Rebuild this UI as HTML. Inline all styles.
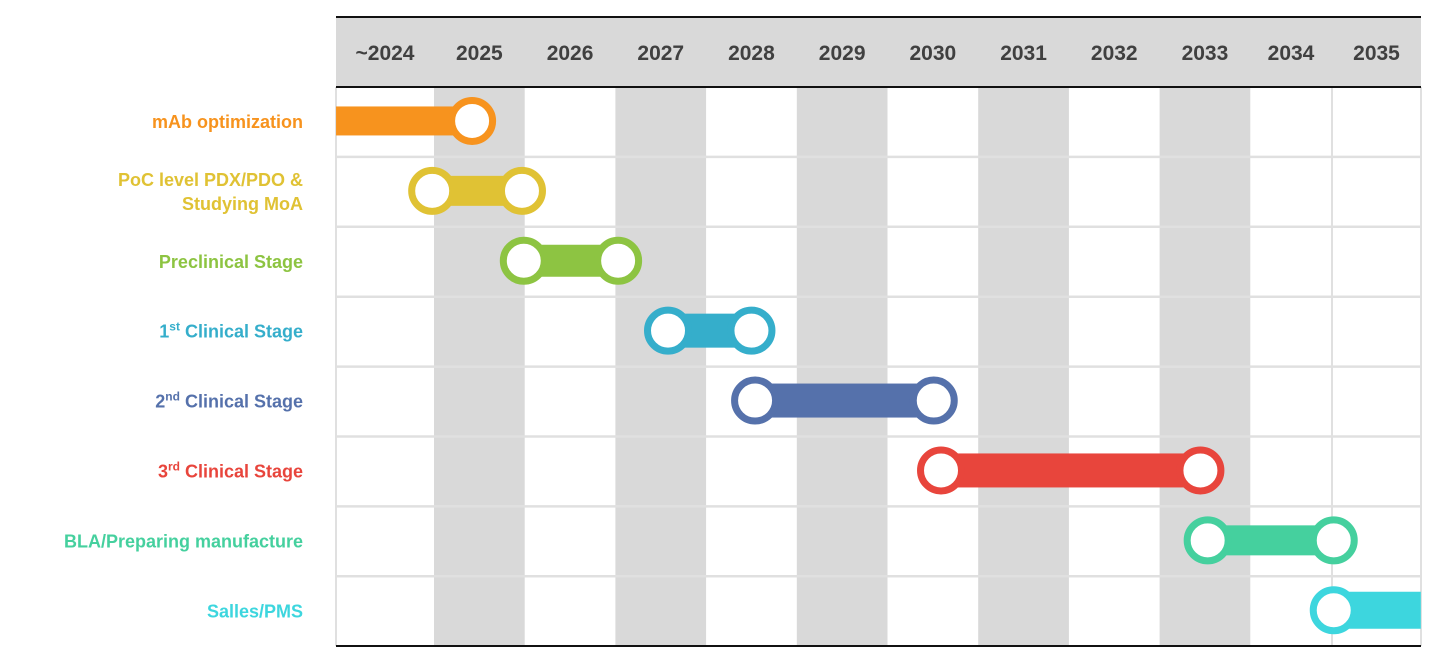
<!DOCTYPE html>
<html><head><meta charset="utf-8"><style>
body{margin:0;background:#fff;width:1435px;height:670px;overflow:hidden}
svg{display:block;font-family:"Liberation Sans",sans-serif}
</style></head><body>
<svg id="c" width="1435" height="670"></svg>
<script>
const years=["~2024","2025","2026","2027","2028","2029","2030","2031","2032","2033","2034","2035"];
const stages=["mAb optimization","PoC level PDX/PDO &|Studying MoA","Preclinical Stage","1st Clinical  Stage","2nd Clinical Stage","3rd Clinical Stage","BLA/Preparing manufacture","Salles/PMS"];
const colors=["#f7931e","#e0c234","#8dc442","#35aecb","#5571ab","#e8453c","#45d09e","#3dd6de"];
const starts=[-1.08,-0.02,0.99,2.58,3.54,5.59,8.53,9.92];
const ends=[0.42,0.97,2.03,3.5,5.51,8.45,9.92,10.88];
const startCircle=[false,true,true,true,true,true,true,true];
const endCircle=[true,true,true,true,true,true,true,false];
const thick=[29,30,32,34,34,34,30,37];
const NS="http://www.w3.org/2000/svg";
const svg=document.getElementById('c');
const X0=336,X1=1421,TOP=87,ROWH=69.9;
function x(t){return Math.max(X0,Math.min(X1,434+90.7*t));}
function yc(i){return TOP+ROWH*i+ROWH/2;}
function mk(tag,a,p){const e=document.createElementNS(NS,tag);for(const k in a)e.setAttribute(k,a[k]);(p||svg).appendChild(e);return e;}
// column bounds
const colL=years.map((_,i)=>i==0?X0:(i==11?1332:(i==10?1250:434+90.7*(i-1))));
const colR=years.map((_,i)=>i==11?X1:(i==10?1332:434+90.7*i));
// header
let h=mk('rect',{x:X0,y:17,width:X1-X0,height:70,fill:'#d9d9d9'});

years.forEach((y,i)=>{
 if(i%2==1&&i<11){const r=mk('rect',{x:colL[i],y:TOP,width:colR[i]-colL[i],height:646-TOP,fill:'#d9d9d9'});
 }
 const t=mk('text',{x:(colL[i]+colR[i])/2,y:60,'text-anchor':'middle','font-size':21,'font-weight':'bold',fill:'#404040'});
 t.textContent=y;
 
 
});
// grid
for(let i=1;i<stages.length;i++){const l=mk('line',{x1:X0,x2:X1,y1:TOP+ROWH*i,y2:TOP+ROWH*i,stroke:'#e0e0e0','stroke-width':2.5});
}
mk('line',{x1:1332,x2:1332,y1:TOP,y2:646,stroke:'#e0e0e0','stroke-width':2});
mk('line',{x1:X0,x2:X0,y1:TOP,y2:646,stroke:'#e0e0e0','stroke-width':2});
mk('line',{x1:X1,x2:X1,y1:TOP,y2:646,stroke:'#e0e0e0','stroke-width':2});
mk('line',{x1:X0,x2:X1,y1:17,y2:17,stroke:'#111','stroke-width':2});
mk('line',{x1:X0,x2:X1,y1:87,y2:87,stroke:'#111','stroke-width':2});
mk('line',{x1:X0,x2:X1,y1:646,y2:646,stroke:'#111','stroke-width':2});
// bars
stages.forEach((s,i)=>{
 const g=mk('g',{});
 
 
 const a=x(starts[i]),b=x(ends[i]),y=yc(i)-1;
 mk('rect',{x:a,y:y-thick[i]/2,width:b-a,height:thick[i],fill:colors[i]},g);
 [[startCircle[i],a],[endCircle[i],b]].forEach(([on,cx])=>{if(on){
  mk('circle',{cx:cx,cy:y,r:20.5,fill:'#fff',stroke:colors[i],'stroke-width':7},g);}});
 // label
 const lines=s.split('|');
 const t=mk('text',{'text-anchor':'end','font-size':18,'font-weight':'bold',fill:colors[i]});
 
 
 lines.forEach((ln,k)=>{
  const ts=mk('tspan',{x:303,y:yc(i)+6+(lines.length>1?(k-0.5)*24:0)},t);
  const m=ln.match(/^(\d)(st|nd|rd)(.*)$/);
  if(m){ts.textContent=m[1];const sup=mk('tspan',{'font-size':12,dy:-7},t);sup.textContent=m[2];
   const r=mk('tspan',{dy:7},t);r.textContent=m[3];}
  else ts.textContent=ln;
 });
});
</script>
</body></html>
